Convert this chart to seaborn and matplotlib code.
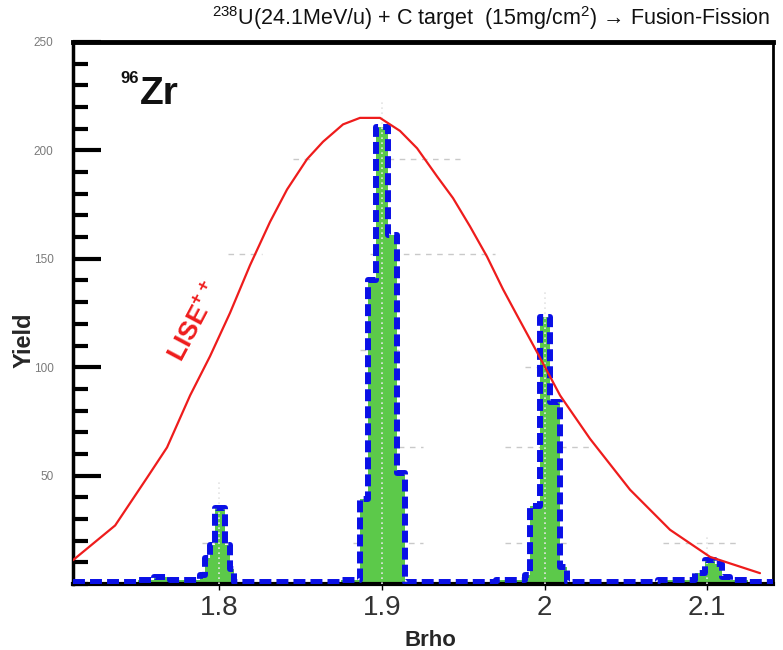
import numpy as np
import pandas as pd
import matplotlib
matplotlib.use("Agg")
import matplotlib.pyplot as plt
import seaborn as sns
from matplotlib.ticker import MultipleLocator

# ---------------- data ----------------
bin_edges = [1.7101, 1.72, 1.73, 1.74, 1.75, 1.76, 1.77, 1.78, 1.7882,
             1.7913, 1.7943, 1.7974, 1.8036, 1.8066, 1.8091,
             1.82, 1.84, 1.86, 1.875, 1.8865,
             1.8915, 1.8964, 1.9037, 1.9093, 1.9142,
             1.93, 1.95, 1.97, 1.9880, 1.9910,
             1.9972, 2.0033, 2.0095, 2.0138,
             2.03, 2.05, 2.07, 2.0924,
             2.0986, 2.1047, 2.1090, 2.1140, 2.125, 2.1404]
counts = [1, 1, 1, 1, 2, 3, 2, 2,
          4, 12, 18, 35, 18, 7,
          1, 1, 1, 1, 2,
          39, 140, 211, 161, 51,
          1, 1, 1, 2, 4,
          36, 123, 84, 8,
          1, 1, 1, 2,
          5, 11, 9, 3, 2, 1]

lise_brho = [1.7101, 1.7360, 1.7556, 1.7679, 1.7821, 1.7943, 1.8066, 1.8189,
             1.8312, 1.8417, 1.8540, 1.8638, 1.8761, 1.8865, 1.8988, 1.9111,
             1.9216, 1.9339, 1.9437, 1.9541, 1.9646, 1.9744, 1.9830, 1.9953,
             2.0095, 2.0279, 2.0525, 2.0771, 2.1017, 2.1324]
lise_yield = [11, 27, 49, 63, 87, 105, 125, 147,
              167, 182, 196, 204, 212, 215, 215, 209,
              201, 188, 178, 165, 151, 136, 124, 107,
              87, 67, 43.5, 25, 12.5, 5]

x_ticks = [1.8, 1.9, 2.0, 2.1]
x_tick_labels = ["1.8", "1.9", "2", "2.1"]
y_ticks = [50, 100, 150, 200, 250]

# faint dashed grid fragments (value, start, end)
hgrid_y = [196, 196, 152, 152, 108, 100, 63, 63, 19, 19, 19, 19]
hgrid_x0 = [1.8455, 1.8970, 1.8054, 1.8927, 1.8865, 1.9880, 1.8896, 1.9757,
            1.7894, 1.8822, 1.9757, 2.0728]
hgrid_x1 = [1.8577, 1.9480, 1.8263, 1.9697, 1.9111, 1.9972, 1.9253, 2.0279,
            1.8097, 1.9253, 2.0156, 2.1183]

# ---------------- figure ----------------
sns.set_theme(style="white")
plt.rcParams["font.family"] = ["Liberation Sans", "DejaVu Sans"]
plt.rcParams["mathtext.fontset"] = "custom"
plt.rcParams["mathtext.rm"] = "Liberation Sans"
plt.rcParams["mathtext.bf"] = "Liberation Sans:bold"

fig = plt.figure(figsize=(7.83, 6.5), dpi=100)
ax = fig.add_axes([73 / 783, 66 / 650, 700 / 783, 542 / 650])

edges = np.array(bin_edges)
centers = list((edges[:-1] + edges[1:]) / 2)
df = pd.DataFrame({"brho": centers, "yield": counts})

sns.histplot(data=df, x="brho", weights="yield", bins=bin_edges, element="step",
             fill=True, color="#5cc94a", alpha=1, linewidth=0, ax=ax, zorder=2)

# dotted light vertical lines at ticks
carr = np.array(centers)
for xt in x_ticks:
    sel = (carr > xt - 0.02) & (carr < xt + 0.02)
    top = max(np.array(counts)[sel]) + 12
    ax.vlines(xt, 0, top, colors="#e4e4e4", linestyles=(0, (1, 2)),
              linewidth=1.2, zorder=3)

for yv, a, b in zip(hgrid_y, hgrid_x0, hgrid_x1):
    ax.hlines(yv, a, b, colors="#c9c9c9", linestyles=(0, (4, 4)),
              linewidth=1, zorder=1.5)

sns.histplot(data=df, x="brho", weights="yield", bins=bin_edges, element="step",
             fill=False, color="#0a10e6", linewidth=4.3,
             linestyle=(0, (2.0, 0.85)), ax=ax, zorder=4)

sns.lineplot(x=lise_brho, y=lise_yield, color="#ee1c1c", linewidth=1.6,
             sort=False, estimator=None, ax=ax, zorder=5)

ax.set_xlim(1.7101, 2.1404)
ax.set_ylim(0, 250)

ax.set_xticks(x_ticks)
ax.set_xticklabels(x_tick_labels, fontsize=20, color="#333333")
ax.set_yticks(y_ticks)
ax.set_yticklabels([str(v) for v in y_ticks], fontsize=8.5, color="#7a7a7a")
ax.yaxis.set_minor_locator(MultipleLocator(10))
ax.tick_params(axis="y", which="major", direction="in", length=20, width=3,
               color="black", pad=14, left=True)
ax.tick_params(axis="y", which="minor", direction="in", length=11, width=3,
               color="black", left=True)
ax.tick_params(axis="x", which="major", direction="out", length=4, width=1,
               color="black", pad=4, bottom=True)

ax.set_xlabel("Brho", fontsize=16, fontweight="bold", labelpad=0)
ax.set_ylabel("Yield", fontsize=17, fontweight="bold", labelpad=4)
ax.xaxis.set_label_coords(0.51, -0.085)
ax.yaxis.set_label_coords(-0.053, 0.45)

for side, lw in [("left", 2.5), ("bottom", 3), ("top", 3.5), ("right", 2)]:
    ax.spines[side].set_visible(True)
    ax.spines[side].set_color("black")
    ax.spines[side].set_linewidth(lw)

fig.text(0.627, 0.972,
         r"$^{238}$U(24.1MeV/u) + C target  (15mg/cm$^{2}$) → Fusion-Fission",
         ha="center", va="center", fontsize=15.5, color="#111111")

ax.text(1.7513, 226, "Zr", fontsize=28, fontweight="bold", ha="left",
        va="center", color="#111111")
ax.text(1.739, 233, "96", fontsize=12, fontweight="bold", ha="left",
        va="center", color="#111111")

ax.text(1.785, 121, r"LISE$^{\mathbf{++}}$", fontsize=19, fontweight="bold",
        color="#ee1c1c", rotation=62, ha="center", va="center")

fig.savefig("out.png", dpi=100)
